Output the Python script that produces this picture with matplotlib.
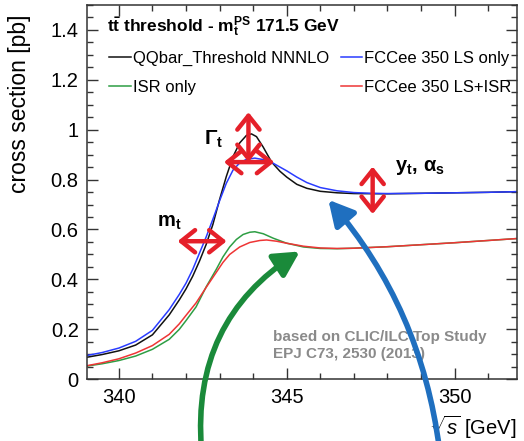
import numpy as np
import matplotlib
matplotlib.use("Agg")
import matplotlib.pyplot as plt
from matplotlib.ticker import MultipleLocator, FuncFormatter
from matplotlib.lines import Line2D

plt.rcParams['font.family'] = ['Liberation Sans', 'DejaVu Sans']
plt.rcParams['mathtext.fontset'] = 'custom'
plt.rcParams['mathtext.rm'] = 'Liberation Sans'
plt.rcParams['mathtext.it'] = 'Liberation Sans:italic'
plt.rcParams['mathtext.bf'] = 'Liberation Sans:bold'

# sqrt(s) [GeV] and cross section [pb]
nnnlo_x = [339.0, 339.5, 340.0, 340.5, 341.0, 341.5, 341.8, 342.0, 342.2, 342.4, 342.6,
           342.8, 343.0, 343.2, 343.4, 343.6, 343.8, 343.95, 344.1, 344.3, 344.55, 344.8,
           345.0, 345.3, 345.6, 346.0, 346.5, 347.0, 348.0, 349.0, 350.0, 351.0, 352.0]
nnnlo_y = [0.087, 0.099, 0.114, 0.137, 0.178, 0.258, 0.318, 0.362, 0.413, 0.473, 0.540,
           0.620, 0.720, 0.812, 0.892, 0.947, 0.977, 0.983, 0.972, 0.930, 0.870, 0.833,
           0.810, 0.781, 0.765, 0.753, 0.747, 0.744, 0.743, 0.745, 0.747, 0.749, 0.752]

ls_x = [339.0, 339.5, 340.0, 340.5, 341.0, 341.5, 341.8, 342.0, 342.2, 342.4, 342.6,
        342.8, 343.0, 343.2, 343.4, 343.6, 343.8, 344.05, 344.3, 344.55, 344.8, 345.0,
        345.3, 345.6, 346.0, 346.5, 347.0, 347.5, 348.0, 349.0, 350.0, 351.0, 352.0]
ls_y = [0.094, 0.107, 0.125, 0.152, 0.196, 0.279, 0.340, 0.385, 0.440, 0.505, 0.570,
        0.641, 0.715, 0.785, 0.838, 0.867, 0.881, 0.886, 0.880, 0.869, 0.850, 0.835,
        0.810, 0.788, 0.768, 0.755, 0.748, 0.745, 0.744, 0.745, 0.747, 0.749, 0.752]

isr_x = [339.0, 339.5, 340.0, 340.5, 341.0, 341.5, 341.8, 342.0, 342.3, 342.6, 342.9,
         343.1, 343.3, 343.5, 343.7, 343.9, 344.05, 344.3, 344.6, 345.0, 345.5, 346.0,
         346.5, 347.0, 348.0, 349.0, 350.0, 351.0, 352.0]
isr_y = [0.052, 0.062, 0.075, 0.093, 0.120, 0.160, 0.200, 0.235, 0.290, 0.370, 0.440,
         0.490, 0.530, 0.560, 0.580, 0.589, 0.591, 0.583, 0.565, 0.545, 0.530, 0.524,
         0.523, 0.525, 0.531, 0.539, 0.547, 0.556, 0.565]

lsisr_x = [339.0, 339.5, 340.0, 340.5, 341.0, 341.5, 341.8, 342.0, 342.3, 342.6, 342.9,
           343.1, 343.3, 343.6, 343.9, 344.2, 344.4, 344.7, 345.0, 345.5, 346.0, 346.5,
           347.0, 348.0, 349.0, 350.0, 351.0, 352.0]
lsisr_y = [0.053, 0.066, 0.082, 0.105, 0.135, 0.180, 0.222, 0.256, 0.306, 0.368, 0.428,
           0.468, 0.500, 0.530, 0.548, 0.556, 0.558, 0.553, 0.545, 0.533, 0.526, 0.524,
           0.525, 0.531, 0.539, 0.547, 0.556, 0.565]

labels = ["QQbar_Threshold NNNLO", "ISR only", "FCCee 350 LS only", "FCCee 350 LS+ISR"]
colors = ["#111111", "#2e9e44", "#2a3cff", "#ee3535"]

fig = plt.figure(figsize=(5.24, 4.41), dpi=100)
ax = fig.add_axes([0.166, 0.140, 0.820, 0.849])

ax.plot(nnnlo_x, nnnlo_y, color=colors[0], lw=1.1)
ax.plot(ls_x, ls_y, color=colors[2], lw=1.1)
ax.plot(isr_x, isr_y, color=colors[1], lw=1.1)
ax.plot(lsisr_x, lsisr_y, color=colors[3], lw=1.1)

ax.set_xlim(339.05, 351.85)
ax.set_ylim(0, 1.5)

ax.xaxis.set_major_locator(MultipleLocator(5))
ax.xaxis.set_minor_locator(MultipleLocator(1))
ax.yaxis.set_major_locator(MultipleLocator(0.2))
ax.yaxis.set_minor_locator(MultipleLocator(0.05))
ax.yaxis.set_major_formatter(FuncFormatter(lambda v, p: "%g" % round(v, 2)))
ax.tick_params(which='both', direction='in', top=True, right=True, color='#333333',
               labelsize=14.5, width=1.0)
ax.tick_params(which='major', length=8, pad=6)
ax.tick_params(which='minor', length=4.5)
for s in ax.spines.values():
    s.set_color('#333333')
    s.set_linewidth(1.1)

ax.set_ylabel("cross section [pb]", fontsize=16.5, ha='right')
ax.yaxis.set_label_coords(-0.13, 0.975)
ax.set_xlabel(r"$\sqrt{s}$ [GeV]", fontsize=14.5, loc='right', labelpad=5)

# header + legend
ax.text(0.046, 0.929, r"$\mathbf{t\bar{t}}$ threshold - m$_\mathbf{t}^\mathbf{PS}$ 171.5 GeV",
        transform=ax.transAxes, fontsize=12.5, fontweight='bold', va='baseline')
handles = [Line2D([], [], color=c, lw=1.1) for c in colors]
ax.legend(handles, labels, ncol=2, loc='upper left', bbox_to_anchor=(0.051, 0.878),
          frameon=False, fontsize=12, handlelength=1.3, handletextpad=0.12,
          columnspacing=0.72, labelspacing=0.85, borderpad=0, borderaxespad=0)

ax.text(344.58, 0.134, "based on CLIC/ILC Top Study\nEPJ C73, 2530 (2013)",
        color='#8a8a8a', fontsize=11, fontweight='bold', va='center', linespacing=1.25)

# parameter labels
ax.text(342.55, 0.963, r"$\mathbf{\Gamma_t}$", fontsize=15, va='center')
ax.text(341.15, 0.63, r"$\mathbf{m_t}$", fontsize=14.5, va='center')
ax.text(348.24, 0.85, r"$\mathbf{y_t,\,\alpha_s}$", fontsize=14.5, va='center')

red = '#e5202a'
red_style = '<->,head_length=0.5,head_width=0.4'
for a, b in [((343.86, 1.07), (343.86, 0.87)),
             ((343.13, 0.87), (344.63, 0.87)),
             ((341.75, 0.553), (343.21, 0.553)),
             ((347.56, 0.852), (347.56, 0.662))]:
    ax.annotate('', xy=b, xytext=a,
                arrowprops=dict(arrowstyle=red_style, color=red, lw=3.2,
                                mutation_scale=20, shrinkA=0, shrinkB=0))

# big hand-drawn arrows
ax.annotate('', xy=(345.39, 0.512), xytext=(342.46, -0.28), annotation_clip=False,
            arrowprops=dict(arrowstyle='-|>,head_length=0.75,head_width=0.4',
                            color='#1a8a3a', lw=4, mutation_scale=20,
                            shrinkA=0, shrinkB=0, connectionstyle='arc3,rad=-0.3'))
ax.annotate('', xy=(346.24, 0.719), xytext=(349.55, -0.28), annotation_clip=False,
            arrowprops=dict(arrowstyle='-|>,head_length=0.75,head_width=0.4',
                            color='#1f6fbf', lw=4, mutation_scale=20,
                            shrinkA=0, shrinkB=0, connectionstyle='arc3,rad=0.15'))

fig.savefig("out.png", dpi=100)
